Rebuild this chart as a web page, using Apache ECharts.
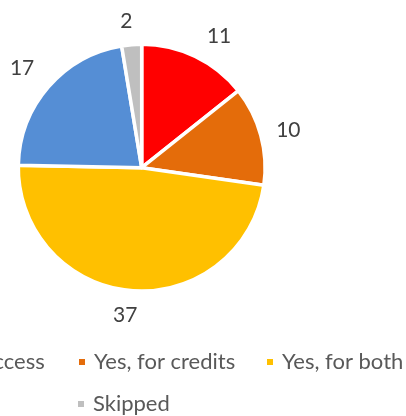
<!DOCTYPE html>
<html>
<head>
<meta charset="utf-8">
<script src="https://cdn.jsdelivr.net/npm/echarts@6/dist/echarts.min.js"></script>
<style>html,body{margin:0;padding:0;background:#fff;}#c{width:406px;height:416px;}</style>
</head>
<body>
<div id="c"></div>
<script>
const categories = ['Yes, for access', 'Yes, for credits', 'Yes, for both', 'No', 'Skipped'];
const values = [11, 10, 37, 17, 2];
const colors = ['#FF0000', '#E46C0A', '#FFC000', '#558ED5', '#BFBFBF'];
const legendRow1 = ['Yes, for access', 'Yes, for credits', 'Yes, for both'];
const legendRow2 = ['Skipped'];

const chart = echarts.init(document.getElementById('c'), null, {renderer: 'canvas'});
const FONT = 'Lato';
const center = [141.7, 167.7];
// fine label placement (mimics the original best-fit label positions)
const labelNudge = [[11, 6], [-1, 3], [-4, -5], [-4, 1], [-3, 6]];
const pieData = categories.map((n, i) => ({name: n, value: values[i], itemStyle: {color: colors[i]}}));
const labelData = categories.map((n, i) => ({name: n, value: values[i], label: {offset: labelNudge[i]}}));
const legendText = {fontFamily: FONT, fontSize: 22, color: '#595959', width: 161, lineHeight: 22, padding: [0, 0, 0, 3]};
chart.setOption({
  animation: false,
  backgroundColor: '#fff',
  legend: [
    {data: legendRow1, left: -111, top: 351, width: 700, orient: 'horizontal', icon: 'rect',
     itemWidth: 8, itemHeight: 8, itemGap: 10, padding: 0, textStyle: legendText, selectedMode: false},
    {data: legendRow2, left: 76, top: 393, width: 400, orient: 'horizontal', icon: 'rect',
     itemWidth: 8, itemHeight: 8, itemGap: 10, padding: 0, textStyle: legendText, selectedMode: false}
  ],
  series: [
    {type: 'pie', center: center, radius: [0, 123.4], startAngle: 90, clockwise: true,
     data: pieData, label: {show: false}, labelLine: {show: false},
     itemStyle: {borderColor: '#fff', borderWidth: 3.5}, emphasis: {disabled: true}, silent: true},
    {type: 'pie', center: center, radius: [140, 160], startAngle: 90, clockwise: true,
     data: labelData, itemStyle: {color: 'rgba(0,0,0,0)'}, labelLine: {show: false},
     label: {show: true, position: 'inside', formatter: '{c}', fontFamily: FONT, fontSize: 21, color: '#404040'},
     emphasis: {disabled: true}, silent: true}
  ]
});
</script>
</body>
</html>
